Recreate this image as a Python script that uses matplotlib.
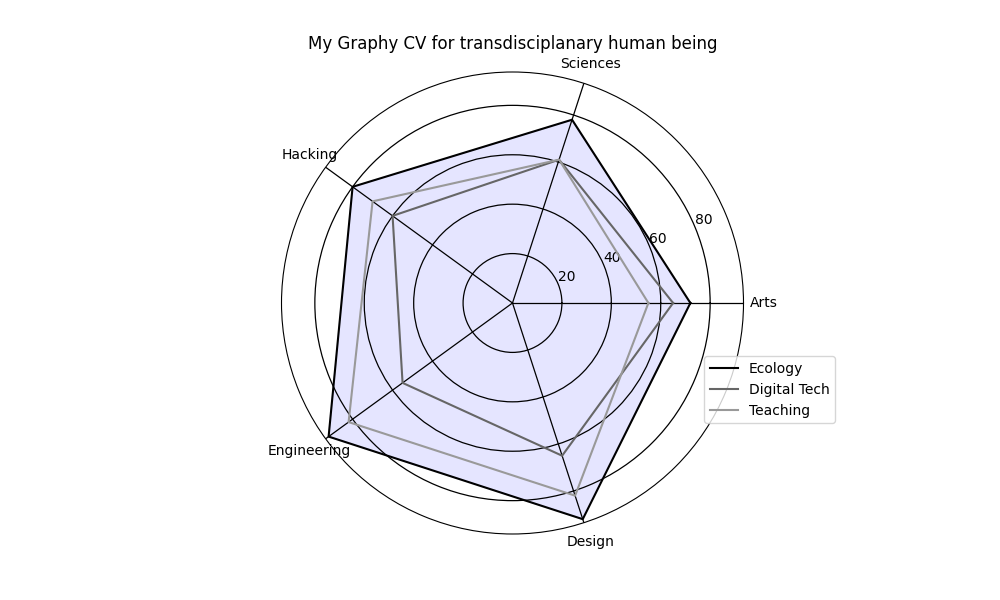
import numpy as np
import matplotlib
matplotlib.use("Agg")
import matplotlib.pyplot as plt

# Kategori dan nilai tiap profil
categories = ["Arts", "Sciences", "Hacking", "Engineering", "Design"]
ecology = [72, 78, 80, 92, 92]
digital_tech = [65, 61, 60, 55, 65]
teaching = [55, 61, 70, 82, 82]
radial_ticks = [20, 40, 60, 80]

n = len(categories)
angles = [i / float(n) * 2 * np.pi for i in range(n)]
angles += angles[:1]

def close(values):
    return list(values) + list(values[:1])

fig = plt.figure(figsize=(10, 6), dpi=100)
ax = plt.subplot(111, polar=True)

ax.set_xticks(angles[:-1])
ax.set_xticklabels(categories, fontsize=10)
ax.set_yticks(radial_ticks)
ax.set_yticklabels([str(t) for t in radial_ticks], fontsize=10)
ax.set_ylim(0, 93.5)
ax.grid(color="black", linewidth=0.9)
ax.tick_params(axis="x", pad=4)

ax.plot(angles, close(ecology), color="black", linewidth=1.5, label="Ecology")
ax.fill(angles, close(ecology), color="blue", alpha=0.1)
ax.plot(angles, close(digital_tech), color="#666666", linewidth=1.5, label="Digital Tech")
ax.plot(angles, close(teaching), color="#999999", linewidth=1.5, label="Teaching")

ax.set_title("My Graphy CV for transdisciplanary human being", fontsize=12)
ax.legend(loc="lower left", bbox_to_anchor=(0.9, 0.225))

plt.savefig("out.png", dpi=100)
